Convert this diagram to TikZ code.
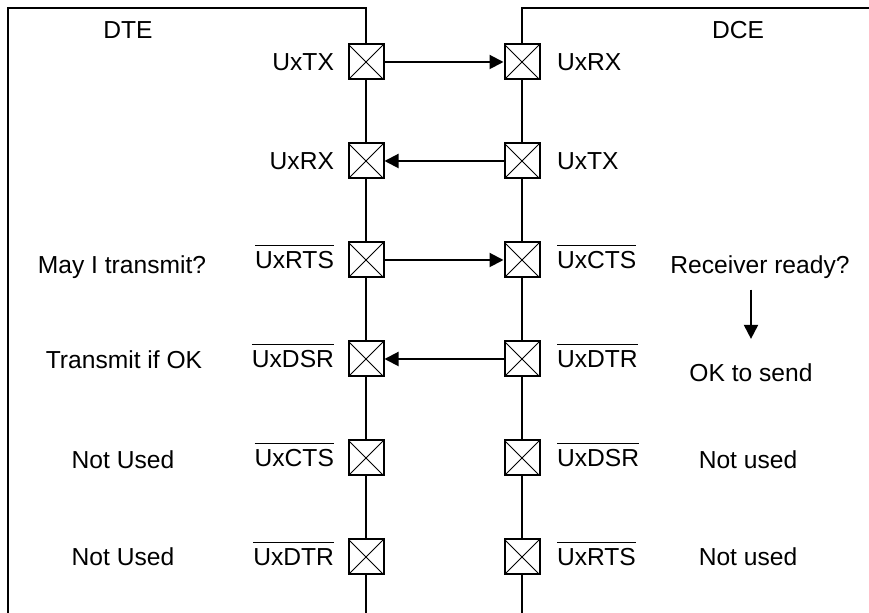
\documentclass[tikz,border=0pt]{standalone}
\usepackage{fontspec}
\setmainfont{Liberation Sans}
\usetikzlibrary{arrows.meta}
\newsavebox{\sigbox}
\newcommand{\notsig}[1]{\sbox{\sigbox}{#1}\rlap{\rule[11.3pt]{\wd\sigbox}{0.65pt}}\usebox{\sigbox}}

\begin{document}
\begin{tikzpicture}[x=0.5pt, y=-0.5pt, >={Triangle[length=7pt,width=7pt]},
    every node/.style={font=\fontsize{12.3}{14}\selectfont},
    xbox/.style={draw, line width=1pt, fill=white, minimum size=17.5pt, inner sep=0pt,
        path picture={\draw[line width=0.5pt] (path picture bounding box.south west) -- (path picture bounding box.north east)
            (path picture bounding box.north west) -- (path picture bounding box.south east);}}]
    \useasboundingbox (0,0) rectangle (869,613);
    % the two devices
    \draw[line width=1pt] (8,613) -- (8,8) -- (366,8) -- (366,613);
    \draw[line width=1pt] (869,8) -- (522,8) -- (522,613);
    \node (dte) at (128,30) {DTE};
    \node (dce) at (738,30) {DCE};
    % pins of the DTE
    \node[xbox] (dteTX)  at (366,62)  {};
    \node[xbox] (dteRX)  at (366,161) {};
    \node[xbox] (dteRTS) at (366,260) {};
    \node[xbox] (dteDSR) at (366,359) {};
    \node[xbox] (dteCTS) at (366,458) {};
    \node[xbox] (dteDTR) at (366,557) {};
    % pins of the DCE
    \node[xbox] (dceRX)  at (522,62)  {};
    \node[xbox] (dceTX)  at (522,161) {};
    \node[xbox] (dceCTS) at (522,260) {};
    \node[xbox] (dceDTR) at (522,359) {};
    \node[xbox] (dceDSR) at (522,458) {};
    \node[xbox] (dceRTS) at (522,557) {};
    % signal names
    \node[anchor=east] (lTX)  at (341,62)  {UxTX};
    \node[anchor=east] (lRX)  at (341,161) {UxRX};
    \node[anchor=east] (lRTS) at (341,257) {\notsig{UxRTS}};
    \node[anchor=east] (lDSR) at (341,356) {\notsig{UxDSR}};
    \node[anchor=east] (lCTS) at (341,455) {\notsig{UxCTS}};
    \node[anchor=east] (lDTR) at (341,554) {\notsig{UxDTR}};
    \node[anchor=west] (rRX)  at (550,62)  {UxRX};
    \node[anchor=west] (rTX)  at (550,161) {UxTX};
    \node[anchor=west] (rCTS) at (550,257) {\notsig{UxCTS}};
    \node[anchor=west] (rDTR) at (550,356) {\notsig{UxDTR}};
    \node[anchor=west] (rDSR) at (550,455) {\notsig{UxDSR}};
    \node[anchor=west] (rRTS) at (550,554) {\notsig{UxRTS}};
    % what the lines mean
    \node (ask)  at (122,267) {May I transmit?};
    \node (send) at (124,360) {Transmit if OK};
    \node (nu1)  at (123,460) {Not Used};
    \node (nu2)  at (123,557) {Not Used};
    \node (rr)   at (760,267) {Receiver ready?};
    \node (ok)   at (751,373) {OK to send};
    \node (nu3)  at (748,460) {Not used};
    \node (nu4)  at (748,557) {Not used};
    % wiring
    \draw[->, line width=1pt] (dteTX) -- (dceRX);
    \draw[->, line width=1pt] (dceTX) -- (dteRX);
    \draw[->, line width=1pt] (dteRTS) -- (dceCTS);
    \draw[->, line width=1pt] (dceDTR) -- (dteDSR);
    \draw[->, line width=1pt, shorten <=2pt, shorten >=9pt] (rr.south -| ok.north) -- (ok.north);
\end{tikzpicture}
\end{document}
